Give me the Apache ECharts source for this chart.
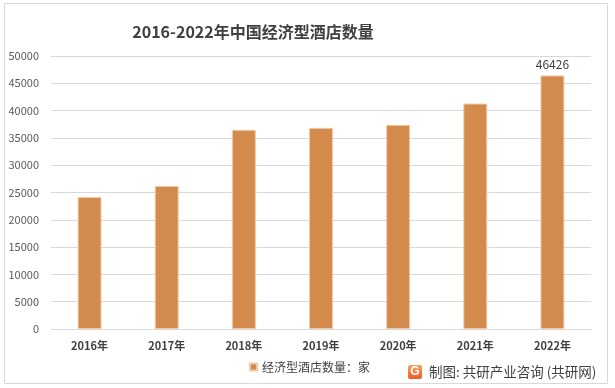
<!DOCTYPE html>
<html>
<head>
<meta charset="utf-8">
<script src="https://cdn.jsdelivr.net/npm/echarts@6/dist/echarts.min.js"></script>
<style>
html,body{margin:0;padding:0;background:#fff;}
#main{width:615px;height:388px;}
</style>
</head>
<body>
<div id="main"></div>
<script>
var categories = ['2016年','2017年','2018年','2019年','2020年','2021年','2022年'];
var values = [24160, 26210, 36470, 36840, 37390, 41290, 46426];
var labeledIndex = [6];
var seriesName = '经济型酒店数量：家';
var titleText = '2016-2022年中国经济型酒店数量';
var footerText = '制图: 共研产业咨询 (共研网)';

var font = '"Microsoft YaHei","Noto Sans CJK SC","Noto Sans",sans-serif';
var chart = echarts.init(document.getElementById('main'), null, {renderer:'canvas'});
var data = values.map(function(v,i){
  var d = {value:v};
  if (labeledIndex.indexOf(i) >= 0) d.label = {show:true};
  return d;
});
chart.setOption({
  animation:false,
  backgroundColor:'#fff',
  title:{text:titleText,left:248,top:19,textAlign:'center',
    textStyle:{fontFamily:font,fontSize:16,fontWeight:'bold',color:'#404040'}},
  grid:{left:51,right:24,top:56,bottom:59,containLabel:false},
  legend:{data:[seriesName],left:244,top:356,itemWidth:7,itemHeight:7,itemGap:4,
    icon:'rect',textStyle:{fontFamily:font,fontSize:12,color:'#404040'}},
  xAxis:{type:'category',data:categories,
    axisLine:{lineStyle:{color:'#d9d9d9',width:1}},axisTick:{show:false},
    axisLabel:{fontFamily:font,fontSize:11,color:'#404040',fontWeight:'bold',margin:11}},
  yAxis:{type:'value',min:0,max:50000,interval:5000,
    axisLine:{show:false},axisTick:{show:false},
    splitLine:{lineStyle:{color:'#d9d9d9',width:1}},
    axisLabel:{fontFamily:font,fontSize:11,color:'#595959',margin:12,
      formatter:function(v){return String(v);}}},
  series:[{name:seriesName,type:'bar',data:data,barWidth:'31%',
    itemStyle:{color:'#D38B4D',borderColor:'#F2C9A2',borderWidth:1},
    label:{show:false,position:'top',distance:5,fontFamily:font,fontSize:12,color:'#404040'}}],
  graphic:[
    {type:'rect',shape:{x:4.5,y:3.5,width:603,height:380},style:{fill:'none',stroke:'#d9d9d9',lineWidth:1},silent:true},
    {type:'rect',shape:{x:408,y:365,width:14,height:14,r:2},
      style:{fill:new echarts.graphic.LinearGradient(0,0,0,1,[{offset:0,color:'#F7A25A'},{offset:1,color:'#F05A28'}])}},
    {type:'text',x:415,y:372,style:{text:'G',fill:'#fff',font:'bold 12px sans-serif',align:'center',verticalAlign:'middle'}},
    {type:'text',x:429,y:372,style:{text:footerText,fill:'#404040',font:'13.5px '+font,verticalAlign:'middle'}}
  ]
});
</script>
</body>
</html>
